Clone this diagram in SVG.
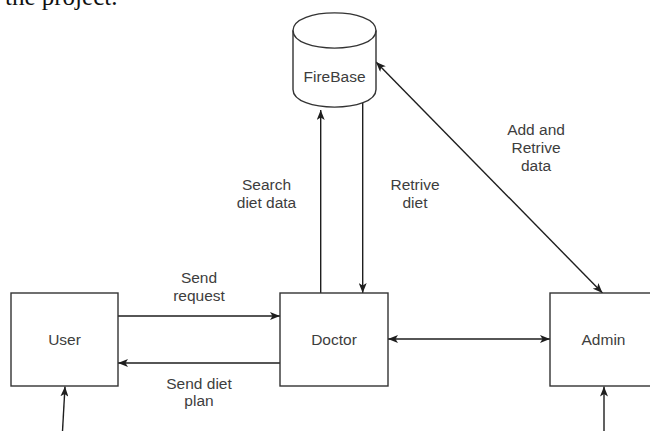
<svg xmlns="http://www.w3.org/2000/svg" width="650" height="431" viewBox="0 0 650 431">
  <style>
    .box { fill: #ffffff; stroke: #333333; stroke-width: 1.4; }
    .lbl { font-family: "Liberation Sans", Arial, sans-serif; font-size: 15.5px; fill: #3d3d3d; text-anchor: middle; }
    .edge { fill: none; stroke: #1e1e1e; stroke-width: 1.4; }
    .cap { font-family: "Liberation Serif", "Times New Roman", serif; font-size: 25px; fill: #111111; }
  </style>
  <defs>
    <marker id="arr" viewBox="0 0 10 8" refX="10" refY="4" markerWidth="10" markerHeight="8" markerUnits="userSpaceOnUse" orient="auto-start-reverse">
      <path d="M0,0 L10,4 L0,8 L2.5,4 Z" fill="#1e1e1e"/>
    </marker>
  </defs>
  <rect width="650" height="431" fill="#ffffff"/>
  <text class="cap" x="5" y="5">the project.</text>

  <g id="connectors">
    <line class="edge" x1="118" y1="316" x2="280" y2="316" marker-end="url(#arr)"/>
    <line class="edge" x1="280" y1="363" x2="118" y2="363" marker-end="url(#arr)"/>
    <line class="edge" x1="388" y1="339" x2="550" y2="339" marker-start="url(#arr)" marker-end="url(#arr)"/>
    <line class="edge" x1="320.7" y1="293" x2="320.7" y2="110" marker-end="url(#arr)"/>
    <line class="edge" x1="362.7" y1="102" x2="362.7" y2="293" marker-end="url(#arr)"/>
    <line class="edge" x1="602.5" y1="293" x2="376" y2="62" marker-start="url(#arr)" marker-end="url(#arr)"/>
    <line class="edge" x1="62.5" y1="431" x2="65" y2="386.5" marker-end="url(#arr)"/>
    <line class="edge" x1="604" y1="431" x2="604" y2="386.5" marker-end="url(#arr)"/>
    <text class="lbl"><tspan x="199" y="283">Send</tspan><tspan x="199" y="300.5">request</tspan></text>
    <text class="lbl"><tspan x="199" y="388.5">Send diet</tspan><tspan x="199" y="406">plan</tspan></text>
    <text class="lbl"><tspan x="266.5" y="190">Search</tspan><tspan x="266.5" y="207.5">diet data</tspan></text>
    <text class="lbl"><tspan x="415" y="190">Retrive</tspan><tspan x="415" y="207.5">diet</tspan></text>
    <text class="lbl"><tspan x="536" y="135">Add and</tspan><tspan x="536" y="153">Retrive</tspan><tspan x="536" y="171">data</tspan></text>
  </g>

  <g id="firebase">
    <path class="box" d="M293,30.5 C293,7 376,7 376,30.5 L376,89.5 C376,113 293,113 293,89.5 Z"/>
    <path class="edge" style="stroke:#333333" d="M293,30.5 C293,54 376,54 376,30.5"/>
    <text class="lbl" x="334.5" y="82">FireBase</text>
  </g>

  <g id="user">
    <rect class="box" x="11" y="293" width="107" height="93"/>
    <text class="lbl" x="64.5" y="345">User</text>
  </g>

  <g id="doctor">
    <rect class="box" x="280" y="293" width="108" height="93"/>
    <text class="lbl" x="334" y="345">Doctor</text>
  </g>

  <g id="admin">
    <rect class="box" x="550" y="293" width="107" height="93"/>
    <text class="lbl" x="603.5" y="345">Admin</text>
  </g>
</svg>
